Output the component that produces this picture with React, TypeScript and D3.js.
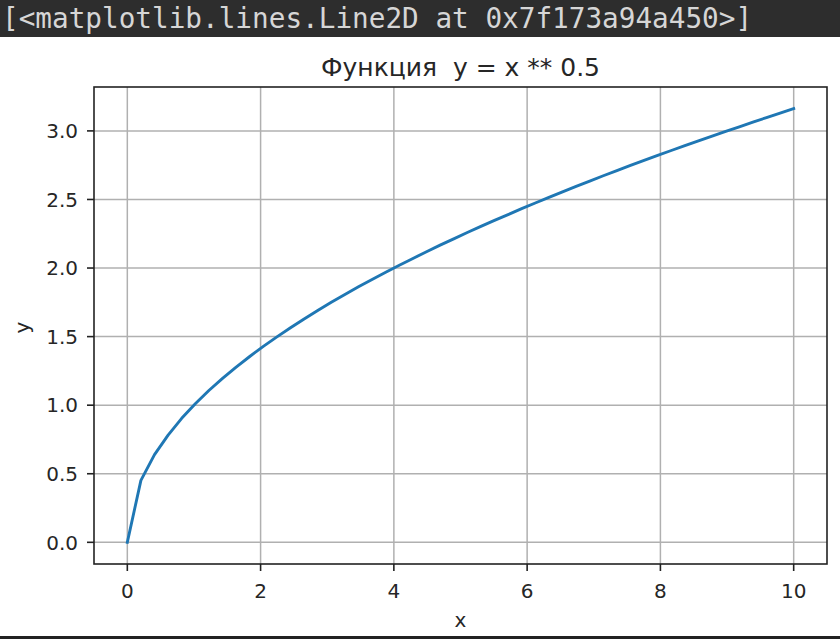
import React, { useRef, useEffect } from 'react'
import * as d3 from 'd3'

// np.linspace(0, 10, 50) and y = x ** 0.5
const xValues = [
  0, 0.204, 0.408, 0.612, 0.816, 1.020, 1.224, 1.429, 1.633, 1.837,
  2.041, 2.245, 2.449, 2.653, 2.857, 3.061, 3.265, 3.469, 3.673, 3.878,
  4.082, 4.286, 4.490, 4.694, 4.898, 5.102, 5.306, 5.510, 5.714, 5.918,
  6.122, 6.327, 6.531, 6.735, 6.939, 7.143, 7.347, 7.551, 7.755, 7.959,
  8.163, 8.367, 8.571, 8.776, 8.980, 9.184, 9.388, 9.592, 9.796, 10,
]
const yValues = [
  0, 0.452, 0.639, 0.782, 0.904, 1.010, 1.107, 1.195, 1.278, 1.355,
  1.429, 1.498, 1.565, 1.629, 1.690, 1.750, 1.807, 1.863, 1.917, 1.969,
  2.020, 2.070, 2.119, 2.167, 2.213, 2.259, 2.304, 2.347, 2.390, 2.433,
  2.474, 2.515, 2.556, 2.595, 2.634, 2.673, 2.711, 2.748, 2.785, 2.821,
  2.857, 2.893, 2.928, 2.962, 2.997, 3.030, 3.064, 3.097, 3.130, 3.162,
]
const xTicks = [0, 2, 4, 6, 8, 10]
const yTicks = [0, 0.5, 1.0, 1.5, 2.0, 2.5, 3.0]

const outputText = '[<matplotlib.lines.Line2D at 0x7f173a94a450>]'
const title = 'Функция  y = x ** 0.5'

const App: React.FC = () => {
  const svgRef = useRef<SVGSVGElement>(null)

  useEffect(() => {
    if (!svgRef.current) return
    const svg = d3.select(svgRef.current)
    svg.selectAll('*').remove()

    const W = 840
    const H = 639
    const plot = { left: 94, right: 827, top: 87, bottom: 564 }
    const font = 'DejaVu Sans, sans-serif'
    const ink = '#262626'

    svg.attr('width', W).attr('height', H)
    svg.append('rect').attr('width', W).attr('height', H).attr('fill', '#fff')

    // notebook output bar
    svg.append('rect').attr('width', W).attr('height', 37).attr('fill', '#2d2d2d')
    svg.append('text')
      .attr('x', 2)
      .attr('y', 28)
      .style('font-family', 'DejaVu Sans Mono, monospace')
      .style('font-size', '27.7px')
      .attr('fill', '#d6d6d6')
      .text(outputText)
    svg.append('rect').attr('y', 636).attr('width', W).attr('height', 3).attr('fill', '#222')

    const xExt = d3.extent(xValues) as [number, number]
    const yExt = d3.extent(yValues) as [number, number]
    const xPad = (xExt[1] - xExt[0]) * 0.05
    const yPad = (yExt[1] - yExt[0]) * 0.05

    const x = d3.scaleLinear()
      .domain([xExt[0] - xPad, xExt[1] + xPad])
      .range([plot.left, plot.right])
    const y = d3.scaleLinear()
      .domain([yExt[0] - yPad, yExt[1] + yPad])
      .range([plot.bottom, plot.top])

    // grid
    const grid = svg.append('g').attr('stroke', '#b0b0b0').attr('stroke-width', 1.5)
    xTicks.forEach(t => {
      grid.append('line')
        .attr('x1', x(t)).attr('x2', x(t))
        .attr('y1', plot.top).attr('y2', plot.bottom)
    })
    yTicks.forEach(t => {
      grid.append('line')
        .attr('x1', plot.left).attr('x2', plot.right)
        .attr('y1', y(t)).attr('y2', y(t))
    })

    // data line
    const line = d3.line<number>()
      .x((d, i) => x(xValues[i]))
      .y(d => y(d))
    svg.append('path')
      .datum(yValues)
      .attr('d', line)
      .attr('fill', 'none')
      .attr('stroke', '#1f77b4')
      .attr('stroke-width', 2.9)
      .attr('stroke-linejoin', 'round')
      .attr('stroke-linecap', 'square')

    // frame
    svg.append('rect')
      .attr('x', plot.left).attr('y', plot.top)
      .attr('width', plot.right - plot.left)
      .attr('height', plot.bottom - plot.top)
      .attr('fill', 'none')
      .attr('stroke', '#222')
      .attr('stroke-width', 1.6)

    // ticks + labels
    xTicks.forEach(t => {
      svg.append('line')
        .attr('x1', x(t)).attr('x2', x(t))
        .attr('y1', plot.bottom).attr('y2', plot.bottom + 7)
        .attr('stroke', '#222').attr('stroke-width', 1.6)
      svg.append('text')
        .attr('x', x(t)).attr('y', 598)
        .attr('text-anchor', 'middle')
        .style('font-family', font).style('font-size', '20px')
        .attr('fill', ink)
        .text(d3.format('d')(t))
    })
    yTicks.forEach(t => {
      svg.append('line')
        .attr('x1', plot.left - 7).attr('x2', plot.left)
        .attr('y1', y(t)).attr('y2', y(t))
        .attr('stroke', '#222').attr('stroke-width', 1.6)
      svg.append('text')
        .attr('x', 78).attr('y', y(t))
        .attr('dy', '0.36em')
        .attr('text-anchor', 'end')
        .style('font-family', font).style('font-size', '20px')
        .attr('fill', ink)
        .text(d3.format('.1f')(t))
    })

    // axis labels
    svg.append('text')
      .attr('x', (plot.left + plot.right) / 2).attr('y', 627)
      .attr('text-anchor', 'middle')
      .style('font-family', font).style('font-size', '20px')
      .attr('fill', ink)
      .text('x')
    svg.append('text')
      .attr('transform', `translate(29, ${(plot.top + plot.bottom) / 2 + 2}) rotate(-90)`)
      .attr('text-anchor', 'middle')
      .style('font-family', font).style('font-size', '20px')
      .attr('fill', ink)
      .text('y')

    // title
    svg.append('text')
      .attr('x', (plot.left + plot.right) / 2).attr('y', 76)
      .attr('text-anchor', 'middle')
      .style('font-family', font).style('font-size', '25px')
      .style('white-space', 'pre')
      .attr('fill', ink)
      .text(title)
  }, [])

  return (
    <svg ref={svgRef} style={{ position: 'absolute', left: 0, top: 0, display: 'block' }}></svg>
  )
}

export default App
